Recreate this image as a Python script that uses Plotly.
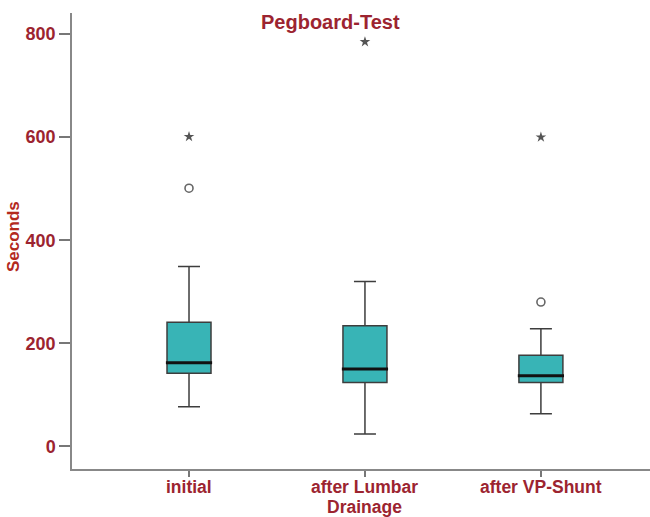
import plotly.graph_objects as go

categories = ["initial", "after Lumbar<br>Drainage", "after VP-Shunt"]
q1 = [142, 124, 124]
median = [162, 150, 137]
q3 = [241, 234, 177]
lower_whisker = [77, 24, 63]
upper_whisker = [349, 320, 228]

outlier_circle_x = ["initial", "after VP-Shunt"]
outlier_circle_y = [501, 280]
outlier_star_x = ["initial", "after Lumbar<br>Drainage", "after VP-Shunt"]
outlier_star_y = [601, 785, 600]

y_ticks = [0, 200, 400, 600, 800]

RED = "#9c2430"
FONT = "Liberation Sans, Arial, sans-serif"

fig = go.Figure()
fig.add_trace(go.Box(
    x=categories, q1=q1, median=median, q3=q3,
    lowerfence=lower_whisker, upperfence=upper_whisker,
    fillcolor="#38b4b6", line=dict(color="#3d3d3d", width=1.5),
    width=0.25, whiskerwidth=0.5, boxpoints=False, hoverinfo="skip",
    showlegend=False,
))
fig.add_trace(go.Scatter(
    x=categories, y=median, mode="markers",
    marker=dict(symbol="line-ew-open", size=33, color="#111111",
                line=dict(color="#111111", width=3)),
    showlegend=False, hoverinfo="skip",
))
fig.add_trace(go.Scatter(
    x=outlier_circle_x, y=outlier_circle_y, mode="markers",
    marker=dict(symbol="circle-open", size=8, color="#666666", line=dict(width=1.6)),
    showlegend=False,
))
fig.add_trace(go.Scatter(
    x=outlier_star_x, y=outlier_star_y, mode="markers",
    marker=dict(symbol="star", size=8, color="#555555", line=dict(width=0)),
    showlegend=False,
))

fig.update_layout(
    width=650, height=517,
    margin=dict(l=72, r=0, t=13, b=48),
    plot_bgcolor="white", paper_bgcolor="white",
    font=dict(family=FONT, color=RED),
    showlegend=False,
)
fig.update_xaxes(
    type="category", range=[-0.665, 2.62], automargin=False,
    showline=True, linecolor="#888888", linewidth=1.5,
    ticks="outside", ticklen=6, tickcolor="#777777", tickwidth=1.5,
    showgrid=False, zeroline=False, showticklabels=False,
)
fig.update_yaxes(
    range=[-44, 841], tickvals=y_ticks, ticktext=[str(v) for v in y_ticks],
    automargin=False,
    showline=True, linecolor="#888888", linewidth=1.5,
    ticks="outside", ticklen=11, tickcolor="#777777", tickwidth=1.5,
    showgrid=False, zeroline=False,
    tickfont=dict(family=FONT, size=18, color=RED, weight="bold"),
)

# category labels (tight line spacing, as in the reference)
for cat in categories:
    for i, line in enumerate(cat.split("<br>")):
        fig.add_annotation(
            text=line, xref="x", yref="paper", x=cat, y=0,
            xanchor="center", yanchor="middle", yshift=-18 - 20 * i,
            showarrow=False, borderpad=0,
            font=dict(family=FONT, size=17.5, color=RED, weight="bold"),
        )

fig.add_annotation(
    text="Pegboard-Test", xref="paper", yref="paper", x=0.448, y=0.98,
    xanchor="center", yanchor="middle", showarrow=False,
    font=dict(family=FONT, size=20, color=RED, weight="bold"),
)
fig.add_annotation(
    text="Seconds", xref="paper", yref="paper", x=-0.101, y=0.51,
    xanchor="center", yanchor="middle", showarrow=False, textangle=-90,
    font=dict(family=FONT, size=17, color="#b32a1e", weight="bold"),
)

fig.write_html("out.html")
